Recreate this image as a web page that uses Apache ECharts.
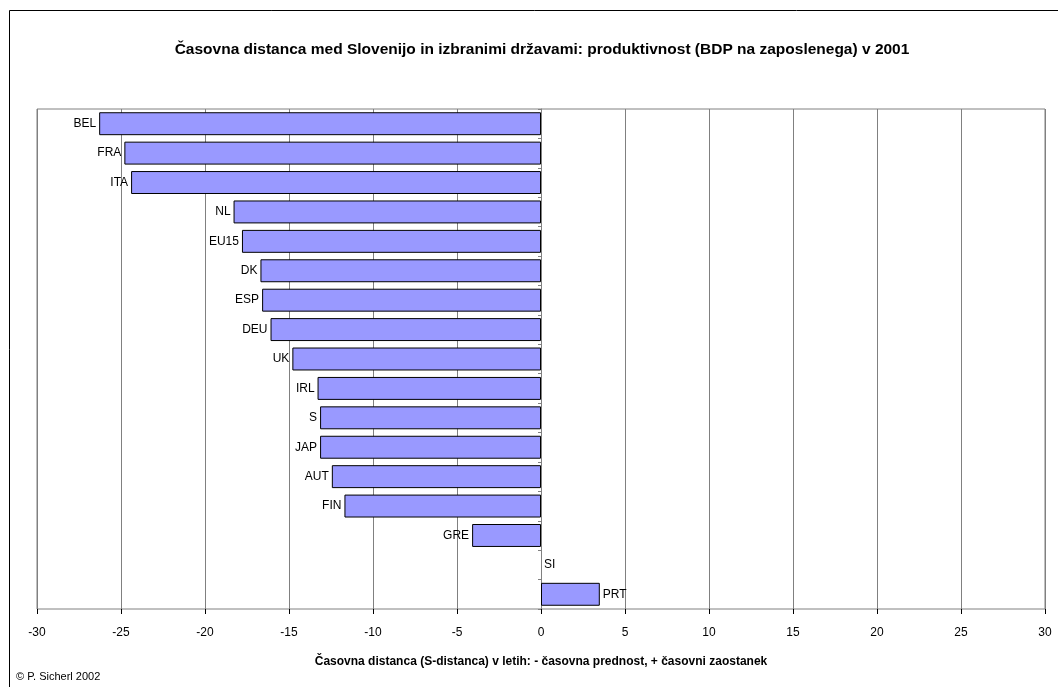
<!DOCTYPE html>
<html>
<head>
<meta charset="utf-8">
<script src="https://cdn.jsdelivr.net/npm/echarts@6/dist/echarts.min.js"></script>
<style>html,body{margin:0;padding:0;background:#fff;}#c{width:1058px;height:687px;}</style>
</head>
<body>
<div id="c"></div>
<script>
var categories = ['BEL','FRA','ITA','NL','EU15','DK','ESP','DEU','UK','IRL','S','JAP','AUT','FIN','GRE','SI','PRT'];
var values = [-26.3,-24.8,-24.4,-18.3,-17.8,-16.7,-16.6,-16.1,-14.8,-13.3,-13.15,-13.15,-12.45,-11.7,-4.1,0,3.5];
var xTicks = [-30,-25,-20,-15,-10,-5,0,5,10,15,20,25,30];

var font = 'Liberation Sans, Arial, sans-serif';
var data = values.map(function(v, i){
  return {
    value: v,
    name: categories[i],
    label: {position: v < 0 ? 'left' : 'right'},
    itemStyle: v === 0 ? {borderWidth: 0} : undefined
  };
});

var chart = echarts.init(document.getElementById('c'));
chart.setOption({
  animation: false,
  title: {
    text: 'Časovna distanca med Slovenijo in izbranimi državami: produktivnost (BDP na zaposlenega) v 2001',
    left: 537, top: 37, textAlign: 'center',
    textStyle: {fontFamily: font, fontSize: 15.5, fontWeight: 'bold', color: '#000'}
  },
  graphic: [
    {type: 'rect', x: 9.5, y: 10.5, shape: {x: 0, y: 0, width: 1100, height: 700},
     style: {fill: 'none', stroke: '#000', lineWidth: 1}, silent: true},
    {type: 'text', left: 16, top: 671,
     style: {text: '© P. Sicherl 2002', font: '11px ' + font, fill: '#000'}}
  ],
  grid: {left: 37, right: 13, top: 109, bottom: 78, show: true, borderColor: '#808080', borderWidth: 1, containLabel: false},
  xAxis: {
    type: 'value', min: xTicks[0], max: xTicks[xTicks.length - 1], interval: 5,
    name: 'Časovna distanca (S-distanca) v letih: - časovna prednost, + časovni zaostanek',
    nameLocation: 'middle', nameGap: 47,
    nameTextStyle: {fontFamily: font, fontSize: 12, fontWeight: 'bold', color: '#000'},
    axisLine: {onZero: false, lineStyle: {color: '#000', width: 1}},
    axisTick: {show: true, length: 5, lineStyle: {color: '#000'}},
    axisLabel: {fontFamily: font, fontSize: 12, color: '#000', margin: 18},
    splitLine: {show: true, lineStyle: {color: '#808080', width: 1}}
  },
  yAxis: {
    type: 'category', data: categories, inverse: true,
    axisLine: {onZero: true, lineStyle: {color: '#808080', width: 1}},
    axisTick: {show: true, length: 3, inside: false, lineStyle: {color: '#808080'}},
    axisLabel: {show: false},
    splitLine: {show: false}
  },
  series: [{
    type: 'bar',
    data: data,
    barCategoryGap: '22%',
    itemStyle: {color: '#9999FF', borderColor: '#000', borderWidth: 1},
    label: {show: true, formatter: '{b}', distance: 3, fontFamily: font, fontSize: 12, color: '#000'}
  }]
});
</script>
</body>
</html>
